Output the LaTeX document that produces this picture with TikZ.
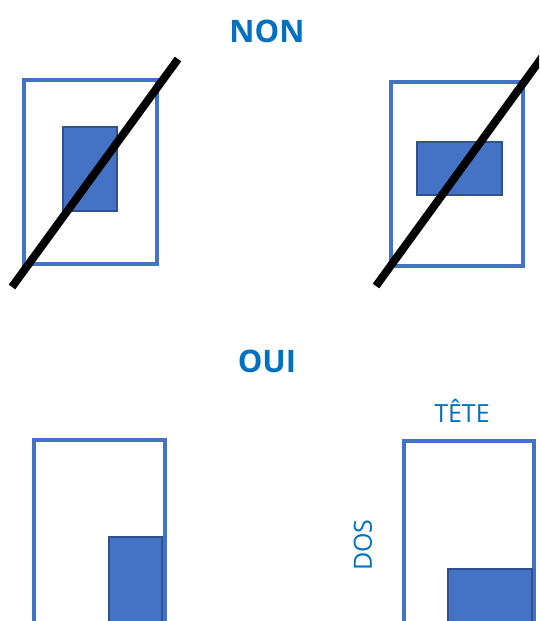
\documentclass[tikz,border=0pt]{standalone}
\usepackage{fontspec}
\setmainfont{Open Sans}
\usepackage{xcolor}
\definecolor{titleblue}{HTML}{0070C0}
\definecolor{frameblue}{HTML}{4472C4}
\definecolor{darkblue}{HTML}{2F528F}
\begin{document}
\begin{tikzpicture}[x=1pt, y=-1pt, page/.style = {draw=frameblue, line width=3.5pt}, photo/.style = {fill=frameblue, draw=darkblue, line width=2pt}, cross/.style = {draw=black, line width=8pt}, title/.style = {text=titleblue, font=\fontsize{31}{36}\selectfont\bfseries, inner sep=0pt}, label/.style = {text=titleblue, font=\fontsize{25}{28}\selectfont, inner sep=0pt}]
        \clip (0, 0) rectangle (539, 621);
        \fill[white] (0, 0) rectangle (539, 621);

        \draw (267, 31) node[title] (non) {NON};
        \draw (267, 361) node[title] (oui) {OUI};

        % NON
        \draw[page] (24, 80) rectangle (157, 264);
        \draw[photo] (63, 127) rectangle (117, 211);
        \draw[cross] (12, 287) -- (178, 59);

        \draw[page] (391, 82) rectangle (523, 266);
        \draw[photo] (417, 142) rectangle (502, 195);
        \draw[cross] (376, 286) -- (543, 56);

        % OUI
        \draw[page] (34, 440) rectangle (165, 640);
        \draw[photo] (109, 537) rectangle (162, 640);

        \draw[page] (404, 441) rectangle (534, 640);
        \draw[photo] (448, 569) rectangle (532, 640);
        \draw (462, 411) node[label] (tete) {TÊTE};
        \draw (363, 545) node[label, rotate=90] (dos) {DOS};
      \end{tikzpicture}
\end{document}
